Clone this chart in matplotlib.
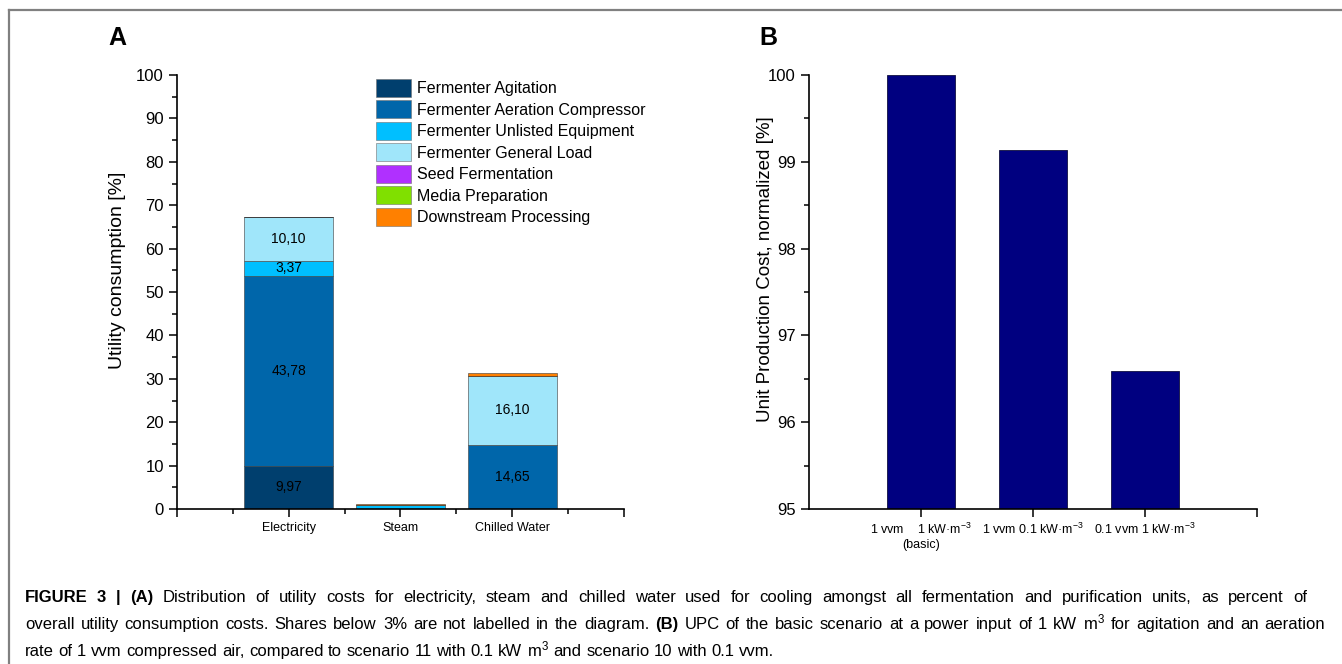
import numpy as np
import matplotlib
matplotlib.use("Agg")
import matplotlib.pyplot as plt
from matplotlib.lines import Line2D

plt.rcParams['font.family'] = ['Liberation Sans', 'DejaVu Sans']
plt.rcParams['mathtext.fontset'] = 'custom'
plt.rcParams['mathtext.rm'] = 'Liberation Sans'
plt.rcParams['mathtext.it'] = 'Liberation Sans:italic'
plt.rcParams['mathtext.bf'] = 'Liberation Sans:bold'

W, H = 1342, 664

## data, panel A
utilities = ["Electricity", "Steam", "Chilled Water"]
series_names = ["Fermenter Agitation", "Fermenter Aeration Compressor",
                "Fermenter Unlisted Equipment", "Fermenter General Load",
                "Seed Fermentation", "Media Preparation", "Downstream Processing"]
agitation = [9.97, 0.0, 0.0]
aeration = [43.78, 0.0, 14.65]
unlisted = [3.37, 0.85, 0.0]
general_load = [10.10, 0.0, 16.10]
seed = [0.0, 0.0, 0.0]
media = [0.0, 0.0, 0.0]
downstream = [0.0, 0.2, 0.7]
colors_a = ["#003f6e", "#0066aa", "#00bfff", "#a0e6fa", "#b030ff", "#80e000", "#ff8000"]

## data, panel B
scenarios = ["1 vvm    1 kW\u00b7m$^{-3}$\n(basic)", "1 vvm 0.1 kW\u00b7m$^{-3}$",
             "0.1 vvm 1 kW\u00b7m$^{-3}$"]
upc = [100.0, 99.14, 96.59]

fig = plt.figure(figsize=(W / 100, H / 100), dpi=100)

## panel A
ax = fig.add_axes([177/W, 1 - 509/H, 447/W, 434/H])
x = np.arange(1, len(utilities) + 1)
bottom = np.zeros(len(utilities))
stacks = [agitation, aeration, unlisted, general_load, seed, media, downstream]
for name, vals, col in zip(series_names, stacks, colors_a):
    vals = np.array(vals)
    ax.bar(x, vals, 0.8, bottom=bottom, color=col, edgecolor="#3a3a3a",
           linewidth=0.4, label=name)
    for xi, b, v in zip(x, bottom, vals):
        if v >= 3:
            ax.text(xi, b + v / 2, f"{v:.2f}".replace(".", ","), ha="center",
                    va="center", fontsize=10, color="black")
    bottom += vals

ax.set_xlim(0, 4)
ax.set_ylim(0, 100)
ax.set_xticks([0, 1, 2, 3, 4])
ax.set_xticklabels([""] + utilities + [""], fontsize=9)
ax.set_xticks([0.5, 1.5, 2.5, 3.5], minor=True)
ax.set_yticks(np.arange(0, 101, 10))
ax.set_yticks(np.arange(5, 100, 10), minor=True)
ax.tick_params(axis="y", labelsize=12)
ax.tick_params(which="major", direction="out", length=6, width=1.1)
ax.tick_params(which="minor", direction="out", length=3.5, width=1.1)
ax.spines[["top", "right"]].set_visible(False)
for s in ["left", "bottom"]:
    ax.spines[s].set_linewidth(1.2)
ax.set_ylabel("Utility consumption [%]", fontsize=14, va="center")
ax.yaxis.set_label_coords((117 - 177) / 447, (509 - 270) / 434)

leg = ax.legend(loc="upper left", bbox_to_anchor=((376 - 177) / 447, (509 - 79) / 434),
                frameon=False, fontsize=11.5, handlelength=2.2, handleheight=1.35,
                labelspacing=0.22, handletextpad=0.35, borderpad=0, borderaxespad=0)
for h in leg.legend_handles:
    h.set_edgecolor("#707070")

## panel B
bx = fig.add_axes([809/W, 1 - 509/H, 448/W, 434/H])
xb = np.arange(1, len(scenarios) + 1)
bx.bar(xb, upc, 0.6, color="#000080", edgecolor="#101040", linewidth=0.6)
bx.set_xlim(0, 4)
bx.set_ylim(95, 100)
bx.set_xticks([1, 2, 3, 4])
bx.set_xticklabels(scenarios + [""], fontsize=9)
bx.set_yticks(np.arange(95, 100.1, 1))
bx.set_yticks(np.arange(95.5, 100, 1), minor=True)
bx.tick_params(axis="y", labelsize=12)
bx.tick_params(which="major", direction="out", length=6, width=1.1)
bx.tick_params(which="minor", direction="out", length=3.5, width=1.1)
bx.spines[["top", "right"]].set_visible(False)
for s in ["left", "bottom"]:
    bx.spines[s].set_linewidth(1.2)
bx.set_ylabel("Unit Production Cost, normalized [%]", fontsize=13.5, va="center")
bx.yaxis.set_label_coords((766 - 809) / 448, (509 - 269) / 434)

## panel letters
fig.text(108/W, 1 - 38/H, "A", fontsize=18, fontweight="bold", va="center")
fig.text(759/W, 1 - 38/H, "B", fontsize=18, fontweight="bold", va="center")

## caption, justified lines like the journal layout
cap_size = 12.0
cap_lines = [
    ([("FIGURE 3 | (A)", "bold"),
      ("Distribution of utility costs for electricity, steam and chilled water used for cooling "
       "amongst all fermentation and purification units, as percent of", "normal")], 602, 1307),
    ([("overall utility consumption costs. Shares below 3% are not labelled in the diagram.", "normal"),
      ("(B)", "bold"),
      ("UPC of the basic scenario at a power input of 1 kW m$^3$ for agitation and an aeration", "normal")],
     629, 1325),
    ([("rate of 1 vvm compressed air, compared to scenario 11 with 0.1 kW m$^3$ and scenario 10 "
       "with 0.1 vvm.", "normal")], 656, None),
]
renderer = fig.canvas.get_renderer()
for parts, yy, x_end in cap_lines:
    words = []
    for txt, wt in parts:
        for w in txt.split(" "):
            words.append((w, wt))
    artists = [fig.text(0, 1 - yy/H, w, fontsize=cap_size, fontweight=wt, va="baseline")
               for w, wt in words]
    widths = [a.get_window_extent(renderer).width for a in artists]
    if x_end is None:
        gap = 0.278 * cap_size * 100 / 72
    else:
        gap = (x_end - 25 - sum(widths)) / (len(words) - 1)
    xpos = 25
    for a, wd in zip(artists, widths):
        a.set_x(xpos / W)
        xpos += wd + gap

## frame
fig.add_artist(Line2D([9/W, 1], [1 - 10/H, 1 - 10/H], color="#808080", lw=1.6))
fig.add_artist(Line2D([9/W, 9/W], [0, 1 - 10/H], color="#808080", lw=1.6))

fig.savefig("out.png", dpi=100)
